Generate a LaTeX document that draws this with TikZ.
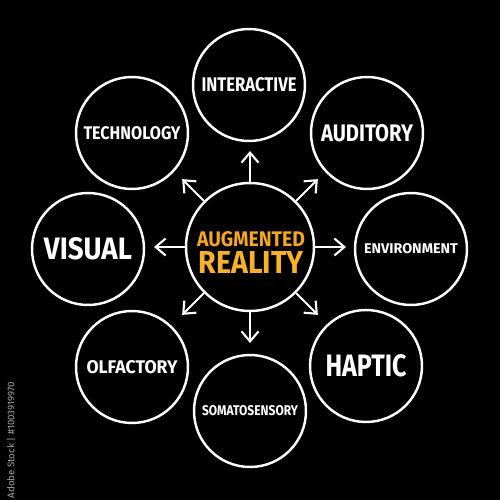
\documentclass[tikz,border=0pt]{standalone}
\usepackage{fontspec}
\setmainfont{Fira Sans}
\usetikzlibrary{arrows.meta,calc}
\newdimen\pxu \pxu=0.02cm
\newcommand\lbl[3]{\resizebox{#1\pxu}{#2\pxu}{\bfseries #3}}
\definecolor{arOrange}{HTML}{F6A623}
\definecolor{arYellow}{HTML}{F8B12A}
\tikzset{
  bubble/.style={circle, draw=white, line width=1.4pt, minimum size=2.24cm, inner sep=0pt, text=white},
  hub/.style={circle, draw=white, line width=1.4pt, minimum size=2.56cm, inner sep=0pt},
  arr/.style={draw=white, line width=1.2pt, -{Straight Barb[length=0.2cm, width=0.34cm, line width=1.2pt]}},
}
\begin{document}
\begin{tikzpicture}[x=0.02cm, y=-0.02cm]
\fill[black] (0,0) rectangle (500,500);
\useasboundingbox (0,0) rectangle (500,500);

\node[hub] (C) at (250,247) {};
\node[text=arOrange] (aug) at (251,239) {\lbl{108}{15}{AUGMENTED}};
\node[text=arYellow] (real) at (251,262) {\lbl{105}{22}{REALITY}};

\node[bubble] (tech) at (132,133) {\lbl{97}{13}{TECHNOLOGY}};
\node[bubble] (inter) at (249,85) {\lbl{95}{14}{INTERACTIVE}};
\node[bubble] (aud) at (367,133) {\lbl{92}{17}{AUDITORY}};
\node[bubble] (env) at (411,249) {\lbl{94}{10}{ENVIRONMENT}};
\node[bubble] (hap) at (366,366) {\lbl{81}{22}{HAPTIC}};
\node[bubble] (soma) at (250,411) {\lbl{96}{10}{SOMATOSENSORY}};
\node[bubble] (olf) at (132,367) {\lbl{91}{13}{OLFACTORY}};
\node[bubble] (vis) at (88,249) {\lbl{88}{22}{VISUAL}};

\foreach \a/\n in {270/up,315/ur,0/r,45/dr,90/dn,135/dl,180/l,225/ul}{
  \coordinate (e\n) at ($(C)+(\a:96)$);
  \draw[arr] (C) -- (e\n);
}

\node[rotate=90, text=gray!70, font=\fontsize{5.5}{6}\selectfont, inner sep=0pt] (wm) at (11,440) {Adobe Stock | \#1003919970};
\end{tikzpicture}
\end{document}
